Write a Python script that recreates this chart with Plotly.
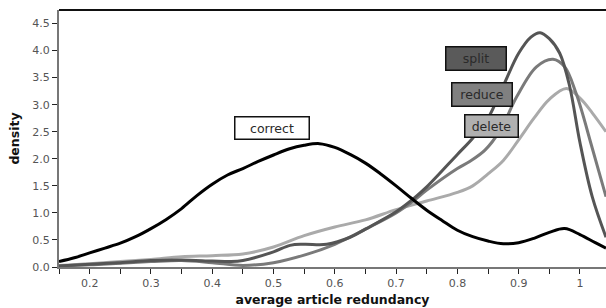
import plotly.graph_objects as go

# ---- data ----
correct_x = [0.15, 0.175, 0.2, 0.225, 0.25, 0.275, 0.3, 0.325, 0.35, 0.375, 0.4, 0.425, 0.45, 0.475,
             0.5, 0.525, 0.55, 0.575, 0.6, 0.625, 0.65, 0.675, 0.7, 0.725, 0.75, 0.775, 0.8, 0.825,
             0.85, 0.875, 0.9, 0.925, 0.95, 0.975, 1.0, 1.025, 1.0425]
correct_y = [0.10, 0.17, 0.26, 0.35, 0.44, 0.56, 0.71, 0.88, 1.08, 1.32, 1.53, 1.70, 1.82, 1.95,
             2.07, 2.18, 2.25, 2.28, 2.21, 2.08, 1.92, 1.72, 1.50, 1.27, 1.05, 0.86, 0.68, 0.56,
             0.48, 0.43, 0.45, 0.53, 0.64, 0.71, 0.60, 0.45, 0.35]

split_x = [0.15, 0.2, 0.25, 0.3, 0.35, 0.4, 0.43, 0.45, 0.5, 0.527, 0.55, 0.587, 0.625, 0.65, 0.7,
           0.728, 0.75, 0.8, 0.825, 0.85, 0.875, 0.9, 0.92, 0.935, 0.95, 0.967, 0.983, 1.0, 1.02, 1.0425]
split_y = [0.02, 0.05, 0.08, 0.12, 0.13, 0.11, 0.10, 0.12, 0.28, 0.40, 0.42, 0.42, 0.55, 0.70, 1.02,
           1.26, 1.48, 2.08, 2.38, 2.75, 3.35, 3.95, 4.25, 4.33, 4.22, 3.95, 3.35, 2.30, 1.30, 0.55]

reduce_x = [0.15, 0.2, 0.25, 0.3, 0.35, 0.4, 0.45, 0.5, 0.55, 0.6, 0.65, 0.7, 0.728, 0.75, 0.8,
            0.82, 0.845, 0.87, 0.897, 0.929, 0.956, 0.975, 0.994, 1.02, 1.0425]
reduce_y = [0.02, 0.04, 0.07, 0.10, 0.12, 0.08, 0.03, 0.08, 0.22, 0.42, 0.70, 1.00, 1.22, 1.42, 1.82,
            1.95, 2.16, 2.53, 3.15, 3.70, 3.84, 3.70, 3.20, 2.20, 1.30]

delete_x = [0.15, 0.2, 0.25, 0.3, 0.35, 0.4, 0.45, 0.5, 0.55, 0.6, 0.65, 0.7, 0.75, 0.8, 0.825,
            0.85, 0.875, 0.9, 0.925, 0.95, 0.978, 1.0, 1.02, 1.0425]
delete_y = [0.03, 0.06, 0.10, 0.14, 0.19, 0.21, 0.24, 0.37, 0.58, 0.74, 0.87, 1.06, 1.22, 1.38, 1.50,
            1.72, 1.97, 2.35, 2.75, 3.10, 3.30, 3.12, 2.85, 2.50]

y_ticks = [0.0, 0.5, 1.0, 1.5, 2.0, 2.5, 3.0, 3.5, 4.0, 4.5]
x_ticks = [0.15, 0.2, 0.25, 0.3, 0.35, 0.4, 0.45, 0.5, 0.55, 0.6, 0.65, 0.7, 0.75, 0.8, 0.85, 0.9, 0.95, 1.0]
x_tick_text = ["", "0.2", "", "0.3", "", "0.4", "", "0.5", "", "0.6", "", "0.7", "", "0.8", "", "0.9", "", "1"]

labels = ["correct", "split", "reduce", "delete"]
label_x = [0.498, 0.830, 0.840, 0.855]
label_y = [2.576, 3.86, 3.18, 2.61]

FONT = "DejaVu Sans"

fig = go.Figure()
series = [
    (delete_x, delete_y, "#aaaaaa"),
    (reduce_x, reduce_y, "#7a7a7a"),
    (split_x, split_y, "#555555"),
    (correct_x, correct_y, "#000000"),
]
for xs, ys, col in series:
    fig.add_trace(go.Scatter(x=xs, y=ys, mode="lines",
                             line=dict(color=col, width=3, shape="spline", smoothing=1.0),
                             showlegend=False, hoverinfo="skip", cliponaxis=True))

box_styles = {
    "correct": dict(bg="#ffffff", w=71, h=19),
    "split": dict(bg="#5a5a5a", w=57, h=20),
    "reduce": dict(bg="#808080", w=57, h=20),
    "delete": dict(bg="#b0b0b0", w=50, h=19),
}
for name, lx, ly in zip(labels, label_x, label_y):
    st = box_styles[name]
    fig.add_annotation(x=lx, y=ly, xref="x", yref="y", text=name, showarrow=False,
                       bgcolor=st["bg"], bordercolor="#111111", borderwidth=1.5, borderpad=1,
                       width=st["w"], height=st["h"],
                       font=dict(family=FONT, size=12.5, color="#2a2a2a"))

fig.add_shape(type="line", xref="paper", yref="paper", x0=0, x1=1, y0=1, y1=1,
              line=dict(color="#111111", width=2))

fig.update_layout(
    width=606, height=308,
    margin=dict(l=59, r=0, t=10, b=41, autoexpand=False),
    paper_bgcolor="white", plot_bgcolor="white",
    hovermode=False,
    font=dict(family=FONT, size=11, color="#555555"),
    xaxis=dict(range=[0.15, 1.0425], tickvals=x_ticks, ticktext=x_tick_text,
               ticks="outside", ticklen=5, tickwidth=1, tickcolor="#222222",
               showline=True, linecolor="#777777", linewidth=2,
               showgrid=False, zeroline=False, automargin=False,
               tickfont=dict(family=FONT, size=11, color="#555555"),
               title=dict(text="<b>average article redundancy</b>", standoff=6,
                          font=dict(family=FONT, size=12.5, color="#111111"))),
    yaxis=dict(range=[0, 4.75], tickvals=y_ticks, tickformat=".1f",
               ticks="outside", ticklen=5, tickwidth=1, tickcolor="#222222",
               showline=True, linecolor="#777777", linewidth=2,
               showgrid=False, zeroline=False, automargin=False,
               tickfont=dict(family=FONT, size=11, color="#555555"),
               title=dict(text="<b>density</b>", standoff=10,
                          font=dict(family=FONT, size=12.5, color="#111111"))),
)

# remove the browser's default 8px body margin so the figure fills the window exactly
fig.write_html("out.html",
               config={"displayModeBar": False, "staticPlot": True},
               post_script="document.body.style.margin='0';document.body.style.overflow='hidden';")
